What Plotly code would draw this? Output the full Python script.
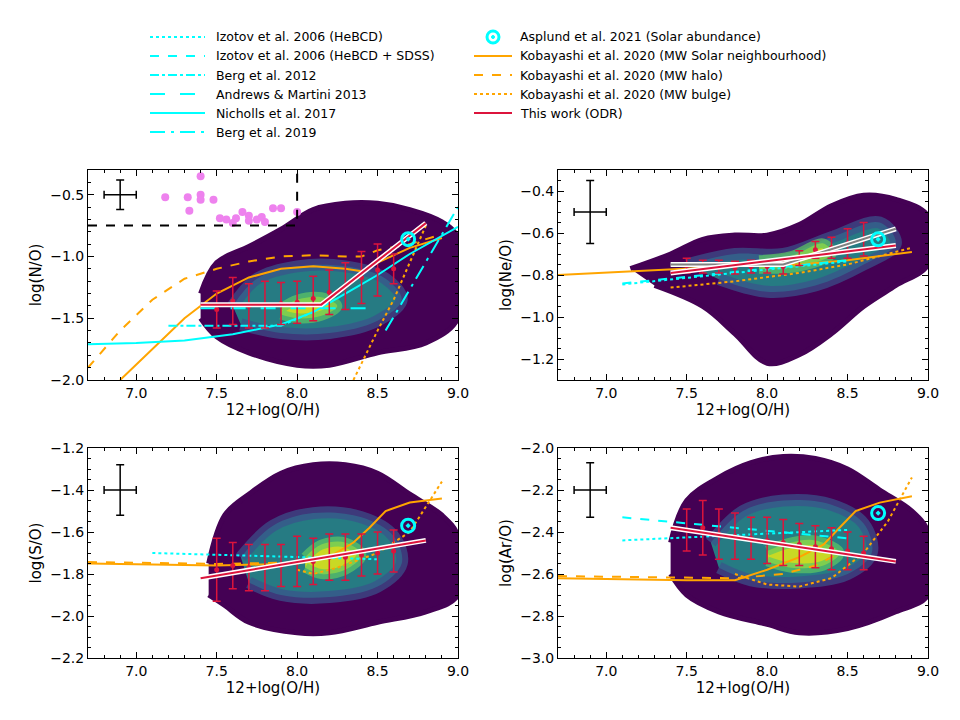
import plotly.graph_objects as go

# ---- data ----
oh_bins = [7.5, 7.6, 7.7, 7.8, 7.9, 8.0, 8.1, 8.2, 8.3, 8.4, 8.5, 8.6]

# N/O panel
no_bin_mid = [-1.43, -1.36, -1.40, -1.39, -1.38, -1.37, -1.34, -1.29, -1.24, -1.17, -1.11, -1.10]
no_bin_err = [0.15, 0.19, 0.18, 0.19, 0.17, 0.17, 0.18, 0.18, 0.19, 0.21, 0.21, 0.12]
no_odr_x = [7.4, 8.15, 8.8]
no_odr_y = [-1.39, -1.39, -0.73]
no_kob_x = [6.9, 7.1, 7.3, 7.5, 7.7, 7.9, 8.1, 8.3, 8.4, 8.5, 8.7, 8.9]
no_kob_y = [-2.0, -1.75, -1.5, -1.3, -1.17, -1.1, -1.08, -1.1, -1.12, -1.05, -0.93, -0.85]
no_halo_x = [6.7, 6.9, 7.1, 7.3, 7.5, 7.7, 7.9, 8.1, 8.3, 8.4, 8.5, 8.7, 8.9]
no_halo_y = [-1.9, -1.6, -1.35, -1.18, -1.1, -1.04, -1.0, -0.99, -1.0, -1.0, -0.95, -0.9, -0.82]
no_bulge_x = [8.35, 8.5, 8.6, 8.7, 8.8]
no_bulge_y = [-2.0, -1.6, -1.35, -1.05, -0.75]
no_nich_x = [6.7, 7.0, 7.3, 7.6, 7.9, 8.1, 8.3, 8.5, 8.7, 9.0]
no_nich_y = [-1.71, -1.70, -1.68, -1.63, -1.55, -1.45, -1.3, -1.15, -0.98, -0.76]
no_berg12_x = [7.2, 7.9, 8.1]
no_berg12_y = [-1.56, -1.56, -1.45]
no_am_x = [7.4, 8.5]
no_am_y = [-1.42, -1.42]
no_berg19_x = [8.55, 9.0]
no_berg19_y = [-1.6, -0.6]
no_lit_x = [7.18, 7.32, 7.33, 7.4, 7.4, 7.4, 7.48, 7.52, 7.56, 7.6, 7.62, 7.66, 7.7, 7.7, 7.75, 7.78, 7.8, 7.85, 7.9, 8.0]
no_lit_y = [-0.52, -0.52, -0.63, -0.35, -0.5, -0.54, -0.54, -0.69, -0.7, -0.73, -0.69, -0.64, -0.67, -0.71, -0.7, -0.68, -0.72, -0.61, -0.61, -0.64]
no_cloud_x = [7.4, 7.5, 7.7, 7.9, 8.1, 8.3, 8.5, 8.7, 8.9, 9.0, 9.0, 8.8, 8.5, 8.2, 8.0, 7.7, 7.5, 7.4]
no_cloud_y = [-1.3, -1.05, -0.92, -0.78, -0.62, -0.57, -0.57, -0.62, -0.72, -0.85, -1.5, -1.7, -1.78, -1.88, -1.88, -1.78, -1.65, -1.5]
no_mid_x = [7.6, 7.75, 8.0, 8.3, 8.55, 8.65, 8.5, 8.2, 7.9, 7.65]
no_mid_y = [-1.4, -1.18, -1.08, -1.08, -1.18, -1.35, -1.52, -1.62, -1.62, -1.55]
no_core_x = [7.9, 8.0, 8.15, 8.25, 8.15, 8.0, 7.9]
no_core_y = [-1.42, -1.35, -1.33, -1.4, -1.48, -1.5, -1.47]

# Ne/O panel
ne_bin_mid = [-0.755, -0.76, -0.76, -0.765, -0.76, -0.76, -0.76, -0.72, -0.68, -0.67, -0.65, -0.63]
ne_bin_err = [0.035, 0.03, 0.03, 0.03, 0.03, 0.03, 0.035, 0.035, 0.04, 0.05, 0.07, 0.08]
ne_odr_x = [7.4, 8.8]
ne_odr_y = [-0.79, -0.66]
ne_grey_x = [7.4, 8.1, 8.8]
ne_grey_y = [-0.75, -0.75, -0.58]
ne_kob_x = [6.7, 7.5, 8.0, 8.2, 8.5, 8.9]
ne_kob_y = [-0.80, -0.77, -0.75, -0.75, -0.73, -0.69]
ne_bulge_x = [7.4, 7.8, 8.2, 8.5, 8.9]
ne_bulge_y = [-0.86, -0.83, -0.79, -0.75, -0.67]
ne_iz_x = [7.1, 8.5]
ne_iz_y = [-0.84, -0.73]
ne_cloud_x = [7.15, 7.4, 7.6, 7.8, 8.0, 8.2, 8.4, 8.6, 8.8, 9.0, 9.0, 8.8, 8.6, 8.4, 8.2, 8.0, 7.8, 7.6, 7.3]
ne_cloud_y = [-0.77, -0.7, -0.63, -0.61, -0.61, -0.56, -0.47, -0.42, -0.44, -0.52, -0.75, -0.85, -0.95, -1.08, -1.18, -1.22, -1.08, -0.95, -0.85]
ne_mid_x = [7.5, 7.8, 8.1, 8.4, 8.7, 8.8, 8.6, 8.3, 8.0, 7.7]
ne_mid_y = [-0.75, -0.7, -0.7, -0.62, -0.55, -0.65, -0.75, -0.85, -0.88, -0.82]
ne_core_x = [7.95, 8.15, 8.35, 8.4, 8.2, 7.95]
ne_core_y = [-0.73, -0.71, -0.65, -0.7, -0.76, -0.77]

# S/O panel
s_bin_mid = [-1.78, -1.76, -1.77, -1.77, -1.76, -1.74, -1.74, -1.72, -1.72, -1.71, -1.70, -1.69]
s_bin_err = [0.15, 0.11, 0.11, 0.11, 0.1, 0.12, 0.11, 0.11, 0.11, 0.1, 0.1, 0.1]
s_odr_x = [7.4, 8.8]
s_odr_y = [-1.82, -1.64]
s_kob_x = [6.7, 7.5, 8.0, 8.2, 8.35, 8.45, 8.55, 8.7, 8.9]
s_kob_y = [-1.75, -1.76, -1.75, -1.72, -1.65, -1.58, -1.5, -1.46, -1.44]
s_halo_x = [6.7, 7.5, 8.0]
s_halo_y = [-1.743, -1.752, -1.745]
s_bulge_x = [8.0, 8.1, 8.25, 8.5, 8.7, 8.9]
s_bulge_y = [-1.78, -1.8, -1.77, -1.7, -1.6, -1.36]
s_iz_x = [7.1, 8.5]
s_iz_y = [-1.70, -1.73]
s_cloud_x = [7.45, 7.55, 7.7, 7.9, 8.1, 8.3, 8.5, 8.7, 8.9, 9.0, 9.0, 8.8, 8.5, 8.2, 8.0, 7.7, 7.55, 7.45]
s_cloud_y = [-1.75, -1.52, -1.42, -1.32, -1.28, -1.28, -1.32, -1.42, -1.52, -1.62, -1.9, -1.98, -2.03, -2.08, -2.08, -2.03, -1.95, -1.9]
s_mid_x = [7.65, 7.85, 8.1, 8.4, 8.6, 8.65, 8.5, 8.2, 7.9, 7.7]
s_mid_y = [-1.72, -1.57, -1.51, -1.53, -1.62, -1.75, -1.86, -1.91, -1.9, -1.84]
s_core_x = [8.05, 8.15, 8.3, 8.4, 8.3, 8.15, 8.05]
s_core_y = [-1.72, -1.66, -1.65, -1.71, -1.78, -1.8, -1.77]

# Ar/O panel
ar_bin_mid = [-2.39, -2.38, -2.41, -2.42, -2.43, -2.44, -2.45, -2.46, -2.47, -2.48, -2.49, -2.5]
ar_bin_err = [0.1, 0.13, 0.12, 0.11, 0.1, 0.11, 0.11, 0.1, 0.1, 0.1, 0.09, 0.08]
ar_odr_x = [7.4, 8.8]
ar_odr_y = [-2.38, -2.54]
ar_kob_x = [6.7, 7.5, 7.8, 8.0, 8.2, 8.35, 8.45, 8.55, 8.7, 8.9]
ar_kob_y = [-2.62, -2.63, -2.63, -2.58, -2.52, -2.46, -2.38, -2.3, -2.26, -2.23]
ar_halo_x = [6.7, 7.8, 8.1, 8.3, 8.45]
ar_halo_y = [-2.61, -2.62, -2.6, -2.56, -2.5]
ar_bulge_x = [7.8, 8.0, 8.2, 8.4, 8.6, 8.75, 8.9]
ar_bulge_y = [-2.6, -2.65, -2.66, -2.62, -2.5, -2.35, -2.14]
ar_izd_x = [7.1, 8.5]
ar_izd_y = [-2.33, -2.43]
ar_izs_x = [7.1, 8.5]
ar_izs_y = [-2.44, -2.39]
ar_cloud_x = [7.4, 7.5, 7.7, 7.9, 8.1, 8.3, 8.5, 8.7, 8.9, 9.0, 9.0, 8.8, 8.5, 8.2, 8.0, 7.7, 7.5, 7.4]
ar_cloud_y = [-2.45, -2.25, -2.14, -2.07, -2.04, -2.05, -2.1, -2.2, -2.3, -2.4, -2.7, -2.78, -2.86, -2.88, -2.84, -2.78, -2.7, -2.6]
ar_mid_x = [7.65, 7.85, 8.1, 8.4, 8.6, 8.65, 8.5, 8.2, 7.9, 7.7]
ar_mid_y = [-2.45, -2.3, -2.25, -2.27, -2.36, -2.5, -2.6, -2.64, -2.63, -2.57]
ar_core_x = [8.0, 8.15, 8.3, 8.45, 8.35, 8.15, 8.0]
ar_core_y = [-2.49, -2.45, -2.44, -2.5, -2.56, -2.57, -2.54]

solar_oh = 8.69
solar_ratio = [-0.86, -0.63, -1.57, -2.31]
cross_y = [-0.5, -0.5, -1.4, -2.2]
cross_yerr = [0.12, 0.15, 0.12, 0.13]

ORANGE = "#ffa500"
CYAN = "#00ffff"
RED = "#dc143c"

# the page puts the figure 8px in from the top-left corner
OFF = 8


def px(x):
    return (x - OFF) / 960


def py(y):
    return 1 - (y - OFF) / 720


fig = go.Figure()
panels = [("x", "y"), ("x2", "y2"), ("x3", "y3"), ("x4", "y4")]


def line(xa, ya, xs, ys, color, dash="solid", width=2):
    fig.add_trace(go.Scatter(x=xs, y=ys, xaxis=xa, yaxis=ya, mode="lines",
                             line=dict(color=color, dash=dash, width=width),
                             showlegend=False, hoverinfo="skip"))


def cloud(xa, ya, cx, cy, mx, my, kx, ky):
    fig.add_trace(go.Scatter(x=cx, y=cy, xaxis=xa, yaxis=ya, fill="toself", mode="lines",
                             line=dict(color="#440154", width=5, shape="spline"),
                             fillcolor="#440154", showlegend=False, hoverinfo="skip"))
    fig.add_trace(go.Scatter(x=mx, y=my, xaxis=xa, yaxis=ya, fill="toself", mode="lines",
                             line=dict(color="rgba(59,82,139,0.7)", width=12, shape="spline"),
                             fillcolor="rgba(33,145,140,0.85)", showlegend=False, hoverinfo="skip"))
    fig.add_trace(go.Scatter(x=kx, y=ky, xaxis=xa, yaxis=ya, fill="toself", mode="lines",
                             line=dict(color="rgba(94,201,98,0.7)", width=10, shape="spline"),
                             fillcolor="rgba(220,227,25,0.9)", showlegend=False, hoverinfo="skip"))


def fit(xa, ya, xs, ys):
    line(xa, ya, xs, ys, "white", width=5)
    line(xa, ya, xs, ys, RED, width=2)


def bins(xa, ya, mid, err):
    fig.add_trace(go.Scatter(x=oh_bins, y=mid, xaxis=xa, yaxis=ya, mode="markers",
                             marker=dict(color=RED, size=5),
                             error_y=dict(type="data", array=err, color=RED, thickness=1.5, width=4),
                             showlegend=False, hoverinfo="skip"))


def extras(i):
    xa, ya = panels[i]
    fig.add_trace(go.Scatter(x=[6.9], y=[cross_y[i]], xaxis=xa, yaxis=ya, mode="markers",
                             marker=dict(size=1, color="black"),
                             error_x=dict(type="constant", value=0.1, color="black", thickness=1.5, width=4),
                             error_y=dict(type="constant", value=cross_yerr[i], color="black", thickness=1.5, width=4),
                             showlegend=False, hoverinfo="skip"))
    fig.add_trace(go.Scatter(x=[solar_oh], y=[solar_ratio[i]], xaxis=xa, yaxis=ya, mode="markers",
                             marker=dict(symbol="circle-dot", size=13, color="rgba(0,0,0,0)",
                                         line=dict(color=CYAN, width=3)),
                             showlegend=False, hoverinfo="skip"))


# N/O
xa, ya = panels[0]
cloud(xa, ya, no_cloud_x, no_cloud_y, no_mid_x, no_mid_y, no_core_x, no_core_y)
fig.add_trace(go.Scatter(x=no_lit_x, y=no_lit_y, xaxis=xa, yaxis=ya, mode="markers",
                         marker=dict(color="violet", size=8), showlegend=False, hoverinfo="skip"))
line(xa, ya, [6.7, 8.0, 8.0], [-0.75, -0.75, -0.3], "black", "dash", 2)
line(xa, ya, no_halo_x, no_halo_y, ORANGE, "dash")
line(xa, ya, no_kob_x, no_kob_y, ORANGE)
line(xa, ya, no_bulge_x, no_bulge_y, ORANGE, "dot")
line(xa, ya, no_nich_x, no_nich_y, CYAN)
line(xa, ya, no_berg12_x, no_berg12_y, CYAN, "dashdot")
line(xa, ya, no_am_x, no_am_y, CYAN, "longdash")
line(xa, ya, no_berg19_x, no_berg19_y, CYAN, "longdashdot")
bins(xa, ya, no_bin_mid, no_bin_err)
fit(xa, ya, no_odr_x, no_odr_y)
extras(0)

# Ne/O
xa, ya = panels[1]
cloud(xa, ya, ne_cloud_x, ne_cloud_y, ne_mid_x, ne_mid_y, ne_core_x, ne_core_y)
line(xa, ya, ne_kob_x, ne_kob_y, ORANGE)
line(xa, ya, ne_bulge_x, ne_bulge_y, ORANGE, "dot")
line(xa, ya, ne_iz_x, ne_iz_y, CYAN, "dash")
line(xa, ya, ne_iz_x, [v - 0.005 for v in ne_iz_y], CYAN, "dot")
bins(xa, ya, ne_bin_mid, ne_bin_err)
line(xa, ya, ne_grey_x, ne_grey_y, "white", width=5)
line(xa, ya, ne_grey_x, ne_grey_y, "grey", width=2)
fit(xa, ya, ne_odr_x, ne_odr_y)
extras(1)

# S/O
xa, ya = panels[2]
cloud(xa, ya, s_cloud_x, s_cloud_y, s_mid_x, s_mid_y, s_core_x, s_core_y)
line(xa, ya, s_halo_x, s_halo_y, ORANGE, "dash")
line(xa, ya, s_kob_x, s_kob_y, ORANGE)
line(xa, ya, s_bulge_x, s_bulge_y, ORANGE, "dot")
line(xa, ya, s_iz_x, s_iz_y, CYAN, "dot")
bins(xa, ya, s_bin_mid, s_bin_err)
fit(xa, ya, s_odr_x, s_odr_y)
extras(2)

# Ar/O
xa, ya = panels[3]
cloud(xa, ya, ar_cloud_x, ar_cloud_y, ar_mid_x, ar_mid_y, ar_core_x, ar_core_y)
line(xa, ya, ar_halo_x, ar_halo_y, ORANGE, "dash")
line(xa, ya, ar_kob_x, ar_kob_y, ORANGE)
line(xa, ya, ar_bulge_x, ar_bulge_y, ORANGE, "dot")
line(xa, ya, ar_izd_x, ar_izd_y, CYAN, "dash")
line(xa, ya, ar_izs_x, ar_izs_y, CYAN, "dot")
bins(xa, ya, ar_bin_mid, ar_bin_err)
fit(xa, ya, ar_odr_x, ar_odr_y)
extras(3)

# axes
xdom = [[px(88), px(458)], [px(558), px(928)]]
ydom = [[py(380), py(170)], [py(658), py(448)]]
yranges = [[-2.0, -0.3], [-1.3, -0.3], [-2.2, -1.2], [-3.0, -2.0]]
ydticks = [0.5, 0.2, 0.2, 0.2]
ytitles = ["log(N/O)", "log(Ne/O)", "log(S/O)", "log(Ar/O)"]
lay = {}
for i in range(4):
    sx = "" if i == 0 else str(i + 1)
    common = dict(showline=True, mirror="allticks", linecolor="black", linewidth=1,
                  ticks="inside", ticklen=6, tickcolor="black", showgrid=False, zeroline=False,
                  tickfont=dict(size=14), automargin=False)
    lay["xaxis" + sx] = dict(common, domain=xdom[i % 2], range=[6.7, 9.0], dtick=0.5, tick0=7.0,
                             minor=dict(ticks="inside", ticklen=3, tickcolor="black", dtick=0.1, showgrid=False),
                             tickformat=".1f", anchor="y" + sx,
                             title=dict(text="12+log(O/H)", font=dict(size=15), standoff=2))
    lay["yaxis" + sx] = dict(common, domain=ydom[i // 2], range=yranges[i], dtick=ydticks[i],
                             minor=dict(ticks="inside", ticklen=3, tickcolor="black",
                                        dtick=0.1 if i == 0 else 0.05, showgrid=False),
                             tickformat=".1f", anchor="x" + sx,
                             title=dict(text=ytitles[i], font=dict(size=15), standoff=4))

# legend drawn by hand in two columns
left_names = ["Izotov et al. 2006 (HeBCD)", "Izotov et al. 2006 (HeBCD + SDSS)", "Berg et al. 2012",
              "Andrews & Martini 2013", "Nicholls et al. 2017", "Berg et al. 2019"]
left_dash = ["dot", "dash", "dashdot", "longdash", "solid", "longdashdot"]
right_names = ["Asplund et al. 2021 (Solar abundance)", "Kobayashi et al. 2020 (MW Solar neighbourhood)",
               "Kobayashi et al. 2020 (MW halo)", "Kobayashi et al. 2020 (MW bulge)", "This work (ODR)"]
right_col = [CYAN, ORANGE, ORANGE, ORANGE, RED]
right_dash = [None, "solid", "dash", "dot", "solid"]
rows = [37, 56, 75, 94, 113, 132]
shapes, annos = [], []
for k, name in enumerate(left_names):
    yp = py(rows[k])
    shapes.append(dict(type="line", xref="paper", yref="paper", x0=px(150), x1=px(205), y0=yp, y1=yp,
                       line=dict(color=CYAN, width=2, dash=left_dash[k])))
    annos.append(dict(xref="paper", yref="paper", x=px(214), y=yp, yanchor="middle", text=name,
                      showarrow=False, xanchor="left", font=dict(size=12.5)))
for k, name in enumerate(right_names):
    yp = py(rows[k])
    if right_dash[k]:
        shapes.append(dict(type="line", xref="paper", yref="paper", x0=px(474), x1=px(512), y0=yp, y1=yp,
                           line=dict(color=right_col[k], width=2, dash=right_dash[k])))
    annos.append(dict(xref="paper", yref="paper", x=px(518), y=yp, yanchor="middle", text=name,
                      showarrow=False, xanchor="left", font=dict(size=12.5)))
# Asplund symbol in legend
yp = py(rows[0])
shapes.append(dict(type="circle", xref="paper", yref="paper", x0=px(487), x1=px(499),
                   y0=yp - 6 / 720, y1=yp + 6 / 720, line=dict(color=CYAN, width=3)))
shapes.append(dict(type="circle", xref="paper", yref="paper", x0=px(491.5), x1=px(494.5),
                   y0=yp - 1.5 / 720, y1=yp + 1.5 / 720, line=dict(color=CYAN, width=1), fillcolor=CYAN))

fig.update_layout(width=960, height=720, margin=dict(l=0, r=0, t=0, b=0, autoexpand=False),
                  paper_bgcolor="white", plot_bgcolor="white",
                  font=dict(family="DejaVu Sans", color="black"),
                  shapes=shapes, annotations=annos, showlegend=False, **lay)
fig.write_html("out.html")
